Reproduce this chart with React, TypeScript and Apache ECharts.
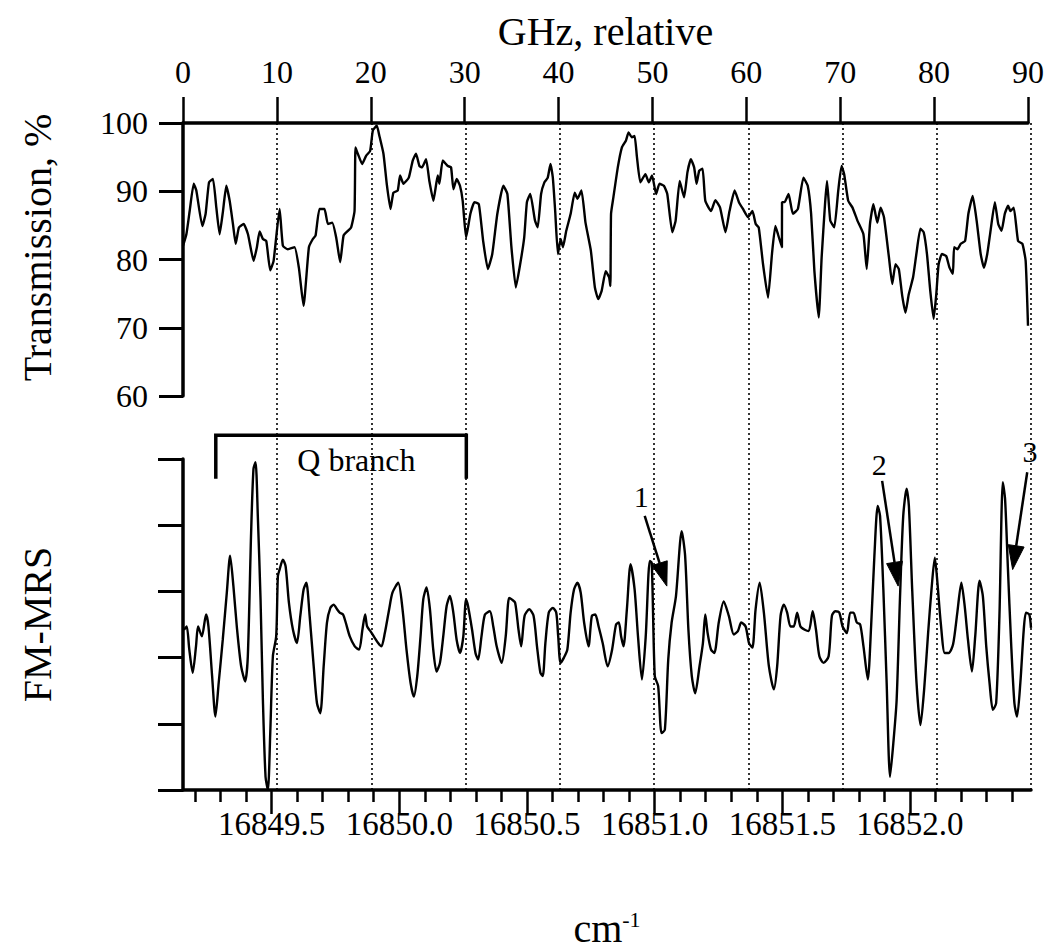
import React, { useEffect, useRef } from "react";
import * as echarts from "echarts";

const FONT = '"Liberation Serif", "Times New Roman", serif';

// Top axis: frequency offset in GHz
const ghzMin = 0;
const ghzMax = 90;
const ghzInterval = 10;

// Bottom axis: wavenumber in cm-1
const cmMin = 16849.153;
const cmMax = 16852.474;
const cmMajor = [16849.5, 16850.0, 16850.5, 16851.0, 16851.5, 16852.0];
const cmMinor = [
  16849.2, 16849.3, 16849.4, 16849.6, 16849.7, 16849.8, 16849.9,
  16850.1, 16850.2, 16850.3, 16850.4, 16850.6, 16850.7, 16850.8, 16850.9,
  16851.1, 16851.2, 16851.3, 16851.4, 16851.6, 16851.7, 16851.8, 16851.9,
  16852.1, 16852.2, 16852.3, 16852.4,
];

// Transmission axis
const transMin = 60;
const transMax = 100;
const transInterval = 10;

// FM-MRS axis (arbitrary units)
const fmMin = 0;
const fmMax = 5;
const fmInterval = 1;

// Transmission, % vs GHz
const transmission: [number, number][] = [
  [0, 82.0], [0.36, 83.7], [0.71, 87.1], [1.14, 91.1], [1.42, 90.1], [2.06, 84.9], [2.41, 86.7], [2.77, 91.3],
  [3.19, 91.8], [3.55, 87.6], [3.9, 83.7], [4.26, 87.1], [4.61, 90.8], [4.97, 88.6], [5.32, 85.2], [5.61, 82.3],
  [5.96, 84.7], [6.46, 85.2], [6.92, 83.7], [7.52, 79.8], [7.87, 81.8], [8.16, 84.1], [8.51, 83.0], [8.87, 82.7],
  [9.29, 78.4], [9.65, 79.8], [10.29, 87.4], [10.64, 82.0], [11.17, 81.5], [11.88, 81.8], [12.34, 78.8], [12.84, 73.2],
  [13.41, 81.8], [13.83, 83.0], [14.12, 83.5], [14.54, 87.4], [15.07, 87.4], [15.43, 85.2], [15.89, 85.4], [16.32, 83.2],
  [16.74, 79.6], [17.1, 83.5], [17.56, 84.2], [17.91, 84.7], [18.27, 87.1], [18.37, 96.4], [18.62, 95.5], [19.08, 94.0],
  [19.5, 95.2], [19.93, 95.9], [20.22, 98.9], [20.64, 99.6], [20.92, 98.1], [21.35, 95.5], [21.7, 91.1], [22.1, 87.4],
  [22.41, 89.8], [22.87, 90.1], [23.12, 92.3], [23.48, 91.1], [24.05, 92.0], [24.47, 94.5], [24.82, 95.5], [25.18, 93.7],
  [25.46, 93.5], [25.89, 94.7], [26.24, 91.5], [26.67, 88.6], [27.13, 92.3], [27.31, 91.1], [27.66, 94.5], [28.2, 93.7],
  [28.55, 93.5], [28.8, 90.3], [29.15, 91.8], [29.5, 90.8], [29.79, 88.6], [30.15, 83.2], [30.61, 86.7], [31.04, 88.4],
  [31.51, 88.1], [31.97, 82.7], [32.47, 78.6], [32.94, 80.8], [33.48, 86.7], [34.12, 90.8], [34.55, 89.6], [34.98, 81.8],
  [35.45, 75.9], [35.91, 79.3], [36.34, 83.2], [36.63, 88.4], [36.99, 89.6], [37.49, 85.7], [37.78, 84.7], [38.14, 89.6],
  [38.49, 91.3], [38.85, 92.0], [39.14, 94.0], [39.39, 92.0], [39.64, 87.1], [39.93, 80.8], [40.22, 83.0], [40.47, 81.8],
  [40.82, 84.2], [41.29, 86.7], [41.72, 89.8], [42.01, 88.9], [42.44, 90.1], [42.87, 85.4], [43.44, 81.3], [43.87, 75.9],
  [44.23, 74.2], [44.59, 75.4], [45.02, 78.3], [45.38, 77.4], [45.52, 76.1], [45.59, 86.7], [45.84, 89.1], [46.31, 93.5],
  [46.74, 96.4], [47.17, 97.4], [47.46, 98.6], [47.81, 97.9], [48.1, 98.1], [48.35, 95.0], [48.71, 91.3], [49.25, 92.5],
  [49.61, 91.3], [49.96, 92.3], [50.39, 89.6], [50.75, 91.1], [51.22, 90.8], [51.58, 89.6], [52.11, 84.0], [52.47, 85.7],
  [52.9, 91.5], [53.37, 89.1], [53.73, 92.8], [54.09, 94.7], [54.44, 93.5], [54.7, 91.1], [54.98, 93.0], [55.34, 93.3],
  [55.63, 88.6], [56.24, 87.1], [56.7, 88.7], [57.2, 87.6], [57.78, 84.0], [58.21, 87.1], [58.75, 90.1], [59.21, 88.4],
  [59.64, 87.4], [60.18, 86.2], [60.65, 87.1], [61.0, 85.2], [61.32, 84.7], [61.78, 79.3], [62.31, 74.4], [62.73, 80.8],
  [63.09, 84.9], [63.37, 83.7], [63.79, 81.8], [63.8, 88.4], [64.07, 88.4], [64.5, 89.6], [64.96, 86.7], [65.49, 87.4],
  [66.08, 92.0], [66.54, 90.8], [66.9, 86.7], [67.25, 78.3], [67.71, 71.5], [68.02, 80.3], [68.38, 88.1], [68.59, 91.5],
  [68.94, 85.7], [69.37, 84.7], [69.79, 90.1], [70.14, 93.7], [70.42, 92.5], [70.85, 88.6], [71.31, 87.6], [71.83, 85.7],
  [72.47, 83.7], [72.82, 78.6], [73.17, 85.2], [73.53, 88.1], [73.95, 85.4], [74.3, 87.6], [74.66, 86.2], [75.19, 80.3],
  [75.54, 76.4], [75.89, 79.3], [76.24, 78.6], [76.6, 74.7], [76.95, 72.2], [77.3, 74.9], [77.76, 77.4], [78.11, 80.8],
  [78.54, 84.5], [78.89, 84.0], [79.24, 80.8], [79.59, 75.4], [79.95, 71.3], [80.23, 74.9], [80.48, 79.3], [80.83, 80.8],
  [81.29, 80.5], [81.64, 78.8], [82.0, 77.9], [82.13, 81.8], [82.49, 81.5], [82.84, 82.3], [83.3, 82.7], [83.65, 86.7],
  [84.11, 89.3], [84.53, 85.7], [84.96, 80.8], [85.31, 78.8], [85.66, 80.8], [86.01, 84.2], [86.47, 88.4], [86.83, 85.2],
  [87.18, 84.2], [87.53, 86.7], [87.88, 87.9], [88.13, 87.1], [88.48, 87.6], [88.94, 82.7], [89.4, 82.3], [89.75, 79.8],
  [90.0, 70.3],
];

// FM-MRS signal (arb. units) vs GHz
const fmmrs: [number, number][] = [
  [0.1, 2.42], [0.39, 2.47], [0.67, 2.12], [1.03, 1.77], [1.38, 2.17], [1.6, 2.47], [2.0, 2.32], [2.45, 2.65],
  [2.7, 2.47], [3.09, 1.72], [3.44, 1.11], [3.79, 1.62], [4.22, 2.27], [4.65, 2.98], [5.0, 3.54], [5.35, 3.08],
  [5.71, 2.47], [6.17, 1.87], [6.6, 1.64], [6.88, 2.02], [7.23, 3.89], [7.48, 4.85], [7.7, 4.95], [7.94, 4.14],
  [8.23, 2.88], [8.48, 1.36], [8.76, 0.2], [9.01, 0.0], [9.26, 0.86], [9.54, 2.02], [9.89, 2.32], [10.07, 3.23],
  [10.25, 3.33], [10.6, 3.48], [10.89, 3.38], [11.24, 2.83], [11.67, 2.42], [12.09, 2.22], [12.45, 2.63], [12.8, 3.03],
  [13.09, 3.13], [13.44, 2.63], [13.87, 1.87], [14.22, 1.31], [14.57, 1.16], [14.93, 1.87], [15.28, 2.53], [15.64, 2.75],
  [15.99, 2.8], [16.35, 2.73], [16.63, 2.68], [16.99, 2.65], [17.27, 2.53], [17.7, 2.32], [18.23, 2.17], [18.69, 2.12],
  [19.04, 2.42], [19.33, 2.65], [19.54, 2.47], [19.89, 2.4], [20.25, 2.32], [20.71, 2.22], [21.06, 2.17], [21.42, 2.37],
  [21.88, 2.73], [22.23, 2.98], [22.84, 3.13], [23.3, 2.73], [23.72, 2.12], [24.15, 1.62], [24.5, 1.41], [24.86, 1.72],
  [25.21, 2.32], [25.5, 2.88], [25.85, 3.06], [26.21, 2.73], [26.56, 2.12], [26.91, 1.79], [27.27, 1.92], [27.62, 2.32],
  [27.98, 2.78], [28.33, 2.93], [28.69, 2.68], [29.04, 2.27], [29.4, 2.07], [29.75, 2.32], [30.04, 2.88], [30.25, 2.78],
  [30.68, 2.42], [31.04, 2.07], [31.32, 1.97], [31.68, 2.32], [32.04, 2.65], [32.57, 2.7], [32.93, 2.47], [33.29, 2.17],
  [33.82, 1.92], [34.25, 2.32], [34.61, 2.9], [34.89, 2.88], [35.25, 2.83], [35.61, 2.42], [35.89, 2.17], [36.25, 2.63],
  [36.75, 2.73], [37.21, 2.63], [37.57, 2.17], [37.93, 1.77], [38.18, 1.72], [38.46, 2.22], [38.82, 2.68], [39.25, 2.75],
  [39.61, 2.68], [39.82, 2.32], [40.07, 1.92], [40.43, 2.0], [40.79, 2.12], [41.14, 2.68], [41.5, 3.03], [41.86, 3.13],
  [42.21, 2.98], [42.57, 2.53], [43.04, 2.17], [43.39, 2.63], [43.75, 2.65], [44.11, 2.47], [44.54, 2.22], [45.07, 1.87],
  [45.54, 2.12], [45.96, 2.5], [46.25, 2.53], [46.5, 2.32], [46.75, 2.17], [47.11, 2.73], [47.5, 3.41], [47.93, 3.03],
  [48.29, 2.32], [48.71, 1.67], [49.11, 2.32], [49.54, 3.46], [49.75, 3.43], [50.07, 1.72], [50.43, 1.57], [50.79, 0.86],
  [51.14, 0.91], [51.5, 1.97], [51.86, 2.53], [52.32, 2.93], [52.93, 3.91], [53.29, 3.54], [53.64, 2.42], [54.0, 1.72],
  [54.36, 1.46], [54.82, 1.87], [55.18, 2.22], [55.43, 2.65], [55.68, 2.37], [56.04, 2.12], [56.39, 2.07], [56.86, 2.53],
  [57.39, 2.85], [57.93, 2.63], [58.46, 2.35], [58.89, 2.4], [59.25, 2.53], [59.71, 2.47], [60.07, 2.22], [60.43, 2.15],
  [60.77, 2.73], [61.2, 3.13], [61.65, 2.68], [62.18, 1.87], [62.71, 1.52], [63.06, 1.87], [63.42, 2.63], [63.77, 2.8],
  [64.12, 2.68], [64.47, 2.47], [64.82, 2.47], [65.18, 2.68], [65.53, 2.47], [65.99, 2.42], [66.41, 2.4], [66.83, 2.7],
  [67.18, 2.42], [67.54, 2.02], [67.99, 1.92], [68.52, 2.02], [68.87, 2.63], [69.23, 2.7], [69.65, 2.68], [70.0, 2.47],
  [70.46, 2.37], [70.81, 2.68], [71.16, 2.68], [71.51, 2.53], [71.87, 2.5], [72.22, 2.17], [72.68, 1.67], [73.03, 2.47],
  [73.38, 3.54], [73.73, 4.29], [73.98, 4.14], [74.33, 3.03], [74.68, 1.62], [75.04, 0.2], [75.39, 0.71], [75.74, 1.36],
  [76.09, 2.88], [76.44, 4.14], [76.8, 4.55], [77.04, 4.29], [77.39, 3.03], [77.85, 1.62], [78.27, 0.98], [78.66, 1.52],
  [79.08, 2.37], [79.44, 3.03], [79.79, 3.51], [80.07, 3.13], [80.42, 2.53], [80.85, 2.07], [81.27, 2.07], [81.73, 2.2],
  [82.18, 2.68], [82.61, 3.13], [82.96, 2.78], [83.31, 2.27], [83.73, 1.79], [84.08, 2.32], [84.54, 3.16], [84.89, 2.93],
  [85.25, 2.17], [85.6, 1.62], [85.95, 1.21], [86.3, 1.31], [86.65, 2.63], [87.01, 4.65], [87.25, 4.39], [87.54, 3.38],
  [87.89, 2.22], [88.24, 1.31], [88.52, 1.11], [88.87, 1.62], [89.23, 2.42], [89.47, 2.68], [89.82, 2.65], [90.0, 2.45],
];

// Annotations in (GHz, FM-MRS) data coordinates
const qBranchStart = 3.48;
const qBranchEnd = 30.07;
const qBranchTop = 5.36;
const qBranchLegBottom = 4.7;
const qBranchLabel = "Q branch";
const qBranchLabelPos: [number, number] = [18.4, 4.98];

const arrowLabels = ["1", "2", "3"];
const arrowTails: [number, number][] = [[49.0, 4.14], [74.2, 4.67], [89.6, 4.8]];
const arrowTips: [number, number][] = [[51.35, 3.08], [75.9, 3.08], [88.05, 3.33]];
const arrowLabelPos: [number, number][] = [[48.63, 4.44], [73.9, 4.92], [89.9, 5.11]];

export default function App() {
  const ref = useRef<HTMLDivElement>(null);

  useEffect(() => {
    if (!ref.current) return;
    const chart = echarts.init(ref.current, null, { renderer: "svg" });
    const black = "#000";
    const tickLabel = { color: black, fontFamily: FONT, fontSize: 32 };
    const titleStyle = { color: black, fontFamily: FONT, fontSize: 40 };

    chart.setOption({
      animation: false,
      backgroundColor: "#fff",
      grid: [
        { left: 183, top: 123, width: 848, height: 273 },
        { left: 183, top: 459, width: 848, height: 332 },
        { left: 183, top: 123, width: 848, height: 668 },
      ],
      xAxis: [
        {
          type: "value", gridIndex: 0, position: "top",
          min: ghzMin, max: ghzMax, interval: ghzInterval,
          axisLine: { show: true, lineStyle: { color: black, width: 3.5 } },
          axisTick: { show: true, length: 26, lineStyle: { color: black, width: 2.5 } },
          axisLabel: { ...tickLabel, margin: 35 },
          splitLine: { show: false },
          name: "GHz, relative", nameLocation: "middle", nameGap: 72,
          nameTextStyle: { ...titleStyle },
        },
        {
          type: "value", gridIndex: 1, min: ghzMin, max: ghzMax, show: false,
        },
        {
          type: "value", gridIndex: 1, position: "bottom",
          min: cmMin, max: cmMax,
          axisLine: { show: true, lineStyle: { color: black, width: 3.5 } },
          axisTick: { show: true, length: 24, customValues: cmMajor, lineStyle: { color: black, width: 2.5 } },
          axisLabel: {
            ...tickLabel, fontSize: 33, margin: 17, customValues: cmMajor,
            formatter: (v: number) => v.toFixed(1),
          },
          splitLine: { show: false },
          name: "cm{sup|-1}", nameLocation: "middle", nameGap: 118,
          nameTextStyle: {
            ...titleStyle,
            rich: {
              sup: { fontFamily: FONT, fontSize: 22, color: black, verticalAlign: "top", lineHeight: 22 },
            },
          },
        },
        {
          type: "value", gridIndex: 1, position: "bottom",
          min: cmMin, max: cmMax,
          axisLine: { show: false },
          axisTick: { show: true, length: 12, customValues: cmMinor, lineStyle: { color: black, width: 2.5 } },
          axisLabel: { show: false },
          splitLine: { show: false },
        },
        {
          type: "value", gridIndex: 2,
          min: ghzMin, max: ghzMax, interval: ghzInterval,
          axisLine: { show: false }, axisTick: { show: false }, axisLabel: { show: false },
          splitLine: {
            show: true, showMinLine: false, showMaxLine: true,
            lineStyle: { color: black, width: 1.6, type: [2, 3] },
          },
        },
      ],
      yAxis: [
        {
          type: "value", gridIndex: 0,
          min: transMin, max: transMax, interval: transInterval,
          axisLine: { show: true, lineStyle: { color: black, width: 3.5 } },
          axisTick: { show: true, length: 24, lineStyle: { color: black, width: 3 } },
          axisLabel: { ...tickLabel, margin: 35 },
          splitLine: { show: false },
          name: "Transmission, %", nameLocation: "middle", nameGap: 126, nameRotate: 90,
          nameTextStyle: { ...titleStyle, padding: [0, 0, 0, 24] },
        },
        {
          type: "value", gridIndex: 1,
          min: fmMin, max: fmMax, interval: fmInterval,
          axisLine: { show: true, lineStyle: { color: black, width: 3.5 } },
          axisTick: { show: true, length: 25, lineStyle: { color: black, width: 3 } },
          axisLabel: { show: false },
          splitLine: { show: false },
          name: "FM-MRS", nameLocation: "middle", nameGap: 126, nameRotate: 90,
          nameTextStyle: { ...titleStyle },
        },
        { type: "value", gridIndex: 2, min: 0, max: 1, show: false },
      ],
      series: [
        {
          type: "line", name: "Transmission", xAxisIndex: 0, yAxisIndex: 0,
          data: transmission, showSymbol: false, smooth: 0.15,
          lineStyle: { color: black, width: 2.4 }, z: 5,
        },
        {
          type: "line", name: "FM-MRS", xAxisIndex: 1, yAxisIndex: 1,
          data: fmmrs, showSymbol: false, smooth: 0.25,
          lineStyle: { color: black, width: 2.4 }, z: 5,
        },
      ],
    });

    const px = (p: [number, number]) =>
      chart.convertToPixel({ xAxisIndex: 1, yAxisIndex: 1 }, p) as number[];

    const graphics: any[] = [];
    const bl = px([qBranchStart, qBranchLegBottom]);
    const tl = px([qBranchStart, qBranchTop]);
    const tr = px([qBranchEnd, qBranchTop]);
    const br = px([qBranchEnd, qBranchLegBottom]);
    graphics.push({
      type: "polyline",
      shape: { points: [bl, tl, tr, br] },
      style: { stroke: black, lineWidth: 3.5, fill: null },
      z: 10,
    });
    const ql = px(qBranchLabelPos);
    graphics.push({
      type: "text", x: ql[0], y: ql[1], z: 10,
      style: {
        text: qBranchLabel, fill: black, fontFamily: FONT, fontSize: 32,
        align: "center", verticalAlign: "middle",
      },
    });

    arrowTails.forEach((tailD, i) => {
      const t = px(tailD);
      const p = px(arrowTips[i]);
      const dx = p[0] - t[0];
      const dy = p[1] - t[1];
      const len = Math.sqrt(dx * dx + dy * dy);
      const ux = dx / len;
      const uy = dy / len;
      const headL = 24;
      const headW = 8;
      const bx = p[0] - ux * headL;
      const by = p[1] - uy * headL;
      graphics.push({
        type: "line", z: 10,
        shape: { x1: t[0], y1: t[1], x2: bx, y2: by },
        style: { stroke: black, lineWidth: 2.5 },
      });
      graphics.push({
        type: "polygon", z: 10,
        shape: {
          points: [
            [p[0], p[1]],
            [bx - uy * headW, by + ux * headW],
            [bx + uy * headW, by - ux * headW],
          ],
        },
        style: { fill: black, stroke: black, lineWidth: 1 },
      });
      const lp = px(arrowLabelPos[i]);
      graphics.push({
        type: "text", x: lp[0], y: lp[1], z: 10,
        style: {
          text: arrowLabels[i], fill: black, fontFamily: FONT, fontSize: 30,
          align: "center", verticalAlign: "middle",
        },
      });
    });

    chart.setOption({ graphic: graphics });

    return () => chart.dispose();
  }, []);

  return (
    <div
      ref={ref}
      style={{ position: "absolute", left: 0, top: 0, width: 1047, height: 949, background: "#fff" }}
    />
  );
}
